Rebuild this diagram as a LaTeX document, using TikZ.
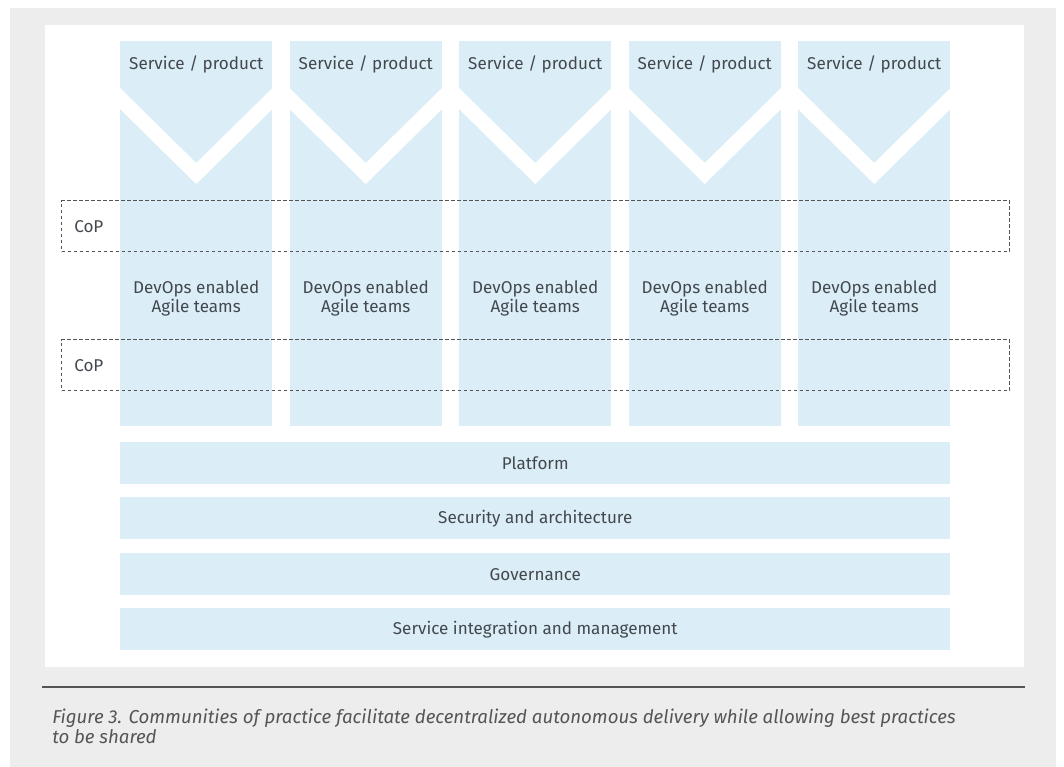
\documentclass[tikz,border=0pt]{standalone}
\usepackage{fontspec}
\setmainfont{Fira Sans}
\usepackage{tikz}
\usetikzlibrary{positioning, calc}

\definecolor{paleblue}{HTML}{DBEEF7}
\definecolor{pagegray}{HTML}{EDEDED}
\definecolor{inkgray}{HTML}{43484E}
\definecolor{rulegray}{HTML}{555555}

% white V cut across the top of a column
\newcommand{\notch}[1]{%
  \fill[white] ($(#1.north west)+(0,47)$) -- ($(#1.north)+(0,122)$)
    -- ($(#1.north east)+(0,47)$) -- ($(#1.north east)+(0,68)$)
    -- ($(#1.north)+(0,143)$) -- ($(#1.north west)+(0,68)$) -- cycle;}

\begin{document}
\begin{tikzpicture}[
    x=0.75pt, y=-0.75pt,
    font=\fontsize{12.8pt}{14.3pt}\selectfont,
    col/.style={rectangle, fill=paleblue, inner sep=0pt, anchor=north west, minimum width=114pt, minimum height=288.75pt},
    bar/.style={rectangle, fill=paleblue, inner sep=0pt, text=inkgray, anchor=north west, minimum width=622.5pt, minimum height=31.5pt},
    coplabel/.style={rectangle, draw=rulegray, dash pattern=on 2.4pt off 2.1pt, line width=1pt, anchor=north west, minimum width=711pt, minimum height=38.25pt, inner sep=0pt},
    head/.style={text=inkgray, inner sep=0pt},
    team/.style={text=inkgray, align=center, inner sep=0pt},
]
\useasboundingbox (0,0) rectangle (1064,767);
\fill[pagegray] (10,8) rectangle (1056,767);
\fill[white] (45,25) rectangle (1024,667);

% product columns
\node[col] (col1) at (120,41) {};
\node[col] (col2) at (289.5,41) {};
\node[col] (col3) at (459,41) {};
\node[col] (col4) at (628.5,41) {};
\node[col] (col5) at (798,41) {};
\notch{col1}
\notch{col2}
\notch{col3}
\notch{col4}
\notch{col5}

\node[head] (svc1) at ($(col1.north)+(0,23)$) {Service / product};
\node[head] (svc2) at ($(col2.north)+(0,23)$) {Service / product};
\node[head] (svc3) at ($(col3.north)+(0,23)$) {Service / product};
\node[head] (svc4) at ($(col4.north)+(0,23)$) {Service / product};
\node[head] (svc5) at ($(col5.north)+(0,23)$) {Service / product};

\node[team] (team1) at ($(col1.north)+(0,257.5)$) {DevOps enabled\\Agile teams};
\node[team] (team2) at ($(col2.north)+(0,257.5)$) {DevOps enabled\\Agile teams};
\node[team] (team3) at ($(col3.north)+(0,257.5)$) {DevOps enabled\\Agile teams};
\node[team] (team4) at ($(col4.north)+(0,257.5)$) {DevOps enabled\\Agile teams};
\node[team] (team5) at ($(col5.north)+(0,257.5)$) {DevOps enabled\\Agile teams};

% communities of practice across the teams
\node[coplabel] (cop1) at (61,200) {};
\node[coplabel] (cop2) at (61,339) {};
\node[head, anchor=west] at ($(cop1.west)+(13,0)$) {CoP};
\node[head, anchor=west] at ($(cop2.west)+(13,0)$) {CoP};

% shared layers
\node[bar] (platform) at (120,442) {Platform};
\node[bar] (secarch) at (120,497) {Security and architecture};
\node[bar] (gov) at (120,553) {Governance};
\node[bar] (siam) at (120,608) {Service integration and management};

% caption
\draw[rulegray, line width=1pt] (42,687) -- (1025,687);
\node[anchor=north west, align=left, inner sep=0pt, text=rulegray, font=\fontsize{14pt}{15pt}\itshape\selectfont] (caption) at (52,709)
  {Figure 3. Communities of practice facilitate decentralized autonomous delivery while allowing best practices\\to be shared};
\end{tikzpicture}
\end{document}
